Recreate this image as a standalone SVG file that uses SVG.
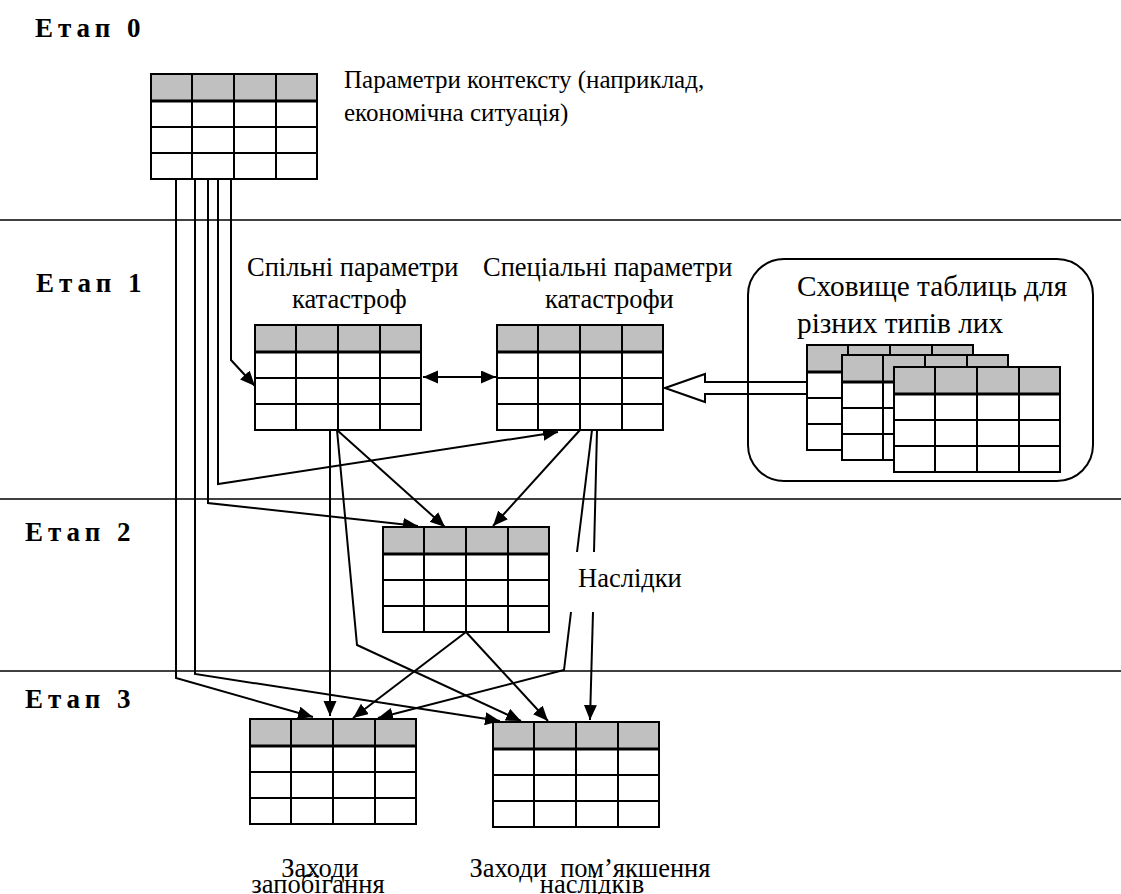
<svg xmlns="http://www.w3.org/2000/svg" xmlns:xlink="http://www.w3.org/1999/xlink" width="1121" height="894" viewBox="0 0 1121 894">
<defs>
<marker id="ah" markerUnits="userSpaceOnUse" markerWidth="16" markerHeight="14" refX="15" refY="6.5" orient="auto">
<path d="M0,0 L15,6.5 L0,13 z" fill="#000"/>
</marker>
<marker id="ahs" markerUnits="userSpaceOnUse" markerWidth="16" markerHeight="14" refX="15" refY="6.5" orient="auto-start-reverse">
<path d="M0,0 L15,6.5 L0,13 z" fill="#000"/>
</marker>
<g id="tbl">
<rect x="0" y="0" width="166" height="105" fill="#fff"/>
<rect x="0" y="0" width="166" height="27" fill="#c0c0c0"/>
<g stroke="#000" stroke-width="2" fill="none">
<line x1="0" y1="53" x2="166" y2="53"/>
<line x1="0" y1="79" x2="166" y2="79"/>
<line x1="41" y1="0" x2="41" y2="105"/>
<line x1="83" y1="0" x2="83" y2="105"/>
<line x1="125" y1="0" x2="125" y2="105"/>
<line x1="0" y1="27" x2="166" y2="27" stroke-width="3"/>
<rect x="0" y="0" width="166" height="105"/>
</g>
</g>
</defs>
<rect width="1121" height="894" fill="#fff"/>
<g id="separators" stroke="#000" stroke-width="1.5">
<line x1="0" y1="220" x2="1121" y2="220"/>
<line x1="0" y1="499" x2="1121" y2="499"/>
<line x1="0" y1="671" x2="1121" y2="671"/>
</g>
<g id="stage-labels" font-size="27" font-weight="bold" letter-spacing="5">
<text font-family="Liberation Serif" x="35" y="37">Етап 0</text>
<text font-family="Liberation Serif" x="36" y="292">Етап 1</text>
<text font-family="Liberation Serif" x="25" y="541">Етап 2</text>
<text font-family="Liberation Serif" x="25" y="708">Етап 3</text>
</g>
<g id="connectors" stroke="#000" stroke-width="2" fill="none">
<polyline marker-end="url(#ah)" points="176,179 176,678 313,717"/>
<polyline marker-end="url(#ah)" points="195,177 195,674 500,721"/>
<polyline marker-end="url(#ah)" points="208,179 208,503 418,526"/>
<polyline marker-end="url(#ah)" points="218,179 218,484 558,432"/>
<polyline marker-end="url(#ah)" points="231,179 231,360 255,386"/>
<line x1="423" y1="377" x2="496" y2="377" marker-start="url(#ahs)" marker-end="url(#ah)"/>
<polyline marker-end="url(#ah)" points="330,430 330,716"/>
<polyline marker-end="url(#ah)" points="337,430 445,527"/>
<polyline marker-end="url(#ah)" points="337,430 357,645 521,721"/>
<polyline marker-end="url(#ah)" points="580,430 493,526"/>
<polyline points="592,430 577,552"/>
<polyline marker-end="url(#ah)" points="571,612 564,670 378,718"/>
<polyline points="597,430 594,552"/>
<polyline marker-end="url(#ah)" points="593,612 590,720"/>
<polyline marker-end="url(#ah)" points="466,632 353,718"/>
<polyline marker-end="url(#ah)" points="466,632 548,721"/>
<polygon points="665,388 705,374 705,382 808,382 808,394 705,394 705,402" fill="#fff"/>
</g>
<g id="context-params" font-size="25">
<use xlink:href="#tbl" x="151" y="74"/>
<text font-family="Liberation Serif" x="344" y="88">Параметри контексту (наприклад,</text>
<text font-family="Liberation Serif" x="344" y="121">економічна ситуація)</text>
</g>
<g id="common-params" font-size="26.5">
<use xlink:href="#tbl" x="255" y="325"/>
<text font-family="Liberation Serif" x="247" y="276">Спільні параметри</text>
<text font-family="Liberation Serif" x="292" y="308">катастроф</text>
</g>
<g id="special-params" font-size="26.5">
<use xlink:href="#tbl" x="497" y="325"/>
<text font-family="Liberation Serif" x="483" y="276">Спеціальні параметри</text>
<text font-family="Liberation Serif" x="545" y="308">катастрофи</text>
</g>
<g id="repository" font-size="29.3">
<rect x="748" y="259" width="345" height="222" rx="36" ry="36" fill="none" stroke="#000" stroke-width="2"/>
<text font-family="Liberation Serif" x="797" y="296">Сховище таблиць для</text>
<text font-family="Liberation Serif" x="797" y="333">різних типів лих</text>
<use xlink:href="#tbl" x="807" y="345"/>
<use xlink:href="#tbl" x="842" y="355"/>
<use xlink:href="#tbl" x="894" y="367"/>
</g>
<g id="stage2-table">
<use xlink:href="#tbl" x="383" y="527"/>
</g>
<g id="consequences" font-size="26.5">
<text font-family="Liberation Serif" x="578" y="587">Наслідки</text>
</g>
<g id="prevention" font-size="26.5" text-anchor="middle">
<use xlink:href="#tbl" x="250" y="719"/>
<text font-family="Liberation Serif" x="320" y="877">Заходи</text>
<text font-family="Liberation Serif" x="318" y="893">запобігання</text>
</g>
<g id="mitigation" font-size="26.5" text-anchor="middle">
<use xlink:href="#tbl" x="493" y="722"/>
<text font-family="Liberation Serif" x="590" y="877" xml:space="preserve">Заходи  пом’якшення</text>
<text font-family="Liberation Serif" x="592" y="893">наслідків</text>
</g>
</svg>
